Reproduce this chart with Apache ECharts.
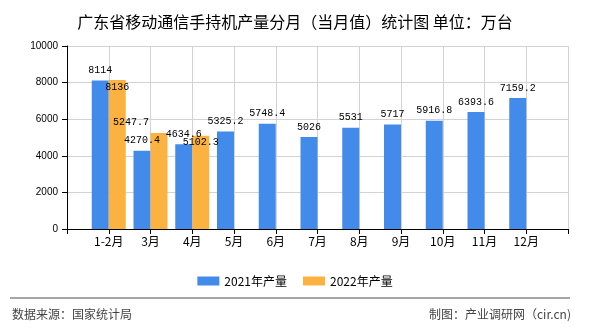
<!DOCTYPE html>
<html>
<head>
<meta charset="utf-8">
<script src="https://cdn.jsdelivr.net/npm/echarts@6/dist/echarts.min.js"></script>
<style>html,body{margin:0;padding:0;background:#fff;}#c{width:590px;height:330px;}</style>
</head>
<body>
<div id="c"></div>
<script>
var categories = ['1-2月','3月','4月','5月','6月','7月','8月','9月','10月','11月','12月'];
var values2021 = [8114, 4270.4, 4634.6, 5325.2, 5748.4, 5026, 5531, 5717, 5916.8, 6393.6, 7159.2];
var values2022 = [8136, 5247.7, 5102.3];
var yTicks = [0, 2000, 4000, 6000, 8000, 10000];
var seriesNames = ['2021年产量', '2022年产量'];

// pad with empty slots at both ends so category points sit inside the axis
var cats = [''].concat(categories, ['']);
function pad(arr) {
  var out = ['-'];
  for (var i = 0; i < categories.length; i++) out.push(i < arr.length ? arr[i] : '-');
  out.push('-');
  return out;
}

var chart = echarts.init(document.getElementById('c'), null, {renderer: 'canvas'});
var labelFont = '"Liberation Mono", "DejaVu Sans Mono", monospace';
var cjk = '"Noto Sans CJK SC", sans-serif';

chart.setOption({
  animation: false,
  backgroundColor: '#fff',
  title: {
    text: '广东省移动通信手持机产量分月（当月值）统计图 单位：万台',
    left: 'center', top: 9,
    textStyle: {fontFamily: cjk, fontSize: 16, fontWeight: 'normal', color: '#000'}
  },
  legend: {
    data: seriesNames,
    left: 'center', top: 270,
    itemWidth: 22, itemHeight: 9, itemGap: 16,
    icon: 'rect',
    textStyle: {fontFamily: cjk, fontSize: 12, color: '#000'}
  },
  grid: {left: 67, right: 22, top: 46, bottom: 101},
  xAxis: {
    type: 'category',
    data: cats,
    boundaryGap: false,
    axisLine: {lineStyle: {color: '#000', width: 1}},
    axisTick: {show: true, length: 5, interval: 0, lineStyle: {color: '#000'}},
    axisLabel: {interval: 0, fontFamily: cjk, fontSize: 12, color: '#000', margin: 6},
    splitLine: {show: true, interval: 0, lineStyle: {color: '#d3d3d3', width: 1}}
  },
  yAxis: {
    type: 'value',
    min: yTicks[0], max: yTicks[yTicks.length - 1], interval: 2000,
    axisLine: {show: true, lineStyle: {color: '#000', width: 1}},
    axisTick: {show: true, length: 5, lineStyle: {color: '#000'}},
    axisLabel: {fontFamily: '"Liberation Sans", Arial, sans-serif', fontSize: 10, color: '#000', margin: 9,
      formatter: function (v) { return String(v); }},
    splitLine: {show: true, lineStyle: {color: '#d3d3d3', width: 1}}
  },
  graphic: [
    {type: 'line', shape: {x1: 10, y1: 298, x2: 570, y2: 298}, style: {stroke: '#888', lineWidth: 1.5}},
    {type: 'text', left: 12, top: 308, style: {text: '数据来源：国家统计局', font: '12px "Noto Sans CJK SC", sans-serif', fill: '#444'}},
    {type: 'text', right: 19, top: 308, style: {text: '制图：产业调研网（cir.cn)', font: '12px "Noto Sans CJK SC", sans-serif', fill: '#444'}}
  ],
  series: [
    {
      name: seriesNames[0], type: 'bar', data: pad(values2021),
      barWidth: 17, barGap: '0%',
      itemStyle: {color: '#428bea'},
      label: {show: true, position: 'top', distance: 5, fontFamily: labelFont, fontSize: 10, color: '#000'}
    },
    {
      name: seriesNames[1], type: 'bar', data: pad(values2022),
      barWidth: 17, barGap: '0%',
      itemStyle: {color: '#fcb241'},
      label: {show: true, position: 'insideTop', distance: 2, fontFamily: labelFont, fontSize: 10, color: '#000'},
      labelLayout: function (p) {
        if (p.dataIndex === 2) return {dx: -28, dy: -18};
        return {};
      }
    }
  ]
});
</script>
</body>
</html>
